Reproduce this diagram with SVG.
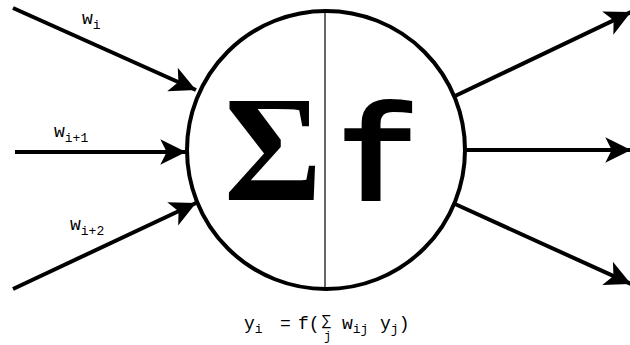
<svg xmlns="http://www.w3.org/2000/svg" width="630" height="345" viewBox="0 0 630 345">
<style>
.ln{stroke:#000;stroke-width:4;fill:none}
.mono{font-family:"Liberation Mono","Courier New",monospace;fill:#000}
.lbl{font-size:18px}
.sub{font-size:13px}
.sig{font-family:"Liberation Serif","Times New Roman",serif;font-size:150px;font-weight:bold;fill:#000}
.big{font-size:138px;font-weight:bold}
</style>
<defs>
<marker id="ah" markerUnits="userSpaceOnUse" markerWidth="30" markerHeight="30" viewBox="-26 -14 28 28" refX="0" refY="0" orient="auto">
<path d="M0,0 L-24,-12 L-18,0 L-24,12 Z" fill="#000"/>
</marker>
</defs>
<rect width="630" height="345" fill="#fff"/>
<g id="connectors">
<line class="ln" x1="13" y1="8" x2="196" y2="90" marker-end="url(#ah)"/>
<line class="ln" x1="15" y1="152" x2="186" y2="152" marker-end="url(#ah)"/>
<line class="ln" x1="13" y1="289" x2="196" y2="203" marker-end="url(#ah)"/>
<line class="ln" x1="455" y1="96" x2="631" y2="12" marker-end="url(#ah)"/>
<line class="ln" x1="465" y1="150" x2="631" y2="150" marker-end="url(#ah)"/>
<line class="ln" x1="455" y1="204" x2="631" y2="284" marker-end="url(#ah)"/>
</g>
<g id="neuron">
<circle cx="326" cy="150" r="139" fill="none" stroke="#000" stroke-width="4"/>
<line x1="325" y1="12" x2="325" y2="288" stroke="#000" stroke-width="1.2"/>
<text class="sig" x="273" y="200" text-anchor="middle">Σ</text>
<text class="mono big" x="378" y="201" text-anchor="middle">f</text>
</g>
<g id="labels">
<text class="mono lbl" x="82" y="24">w<tspan class="sub" dy="5">i</tspan></text>
<text class="mono lbl" x="54" y="137">w<tspan class="sub" dy="5">i+1</tspan></text>
<text class="mono lbl" x="70" y="230">w<tspan class="sub" dy="5">i+2</tspan></text>
</g>
<g id="formula">
<text class="mono lbl" x="244" y="329">y<tspan class="sub" dy="4">i</tspan><tspan dy="-4" x="280">=</tspan><tspan x="298">f(</tspan></text>
<text class="mono" font-size="15" x="322" y="325">∑</text>
<text class="mono" font-size="12" x="324" y="340">j</text>
<text class="mono lbl" x="342" y="329">w<tspan class="sub" dy="4">ij</tspan><tspan dy="-4" x="380">y</tspan><tspan class="sub" dy="4">j</tspan><tspan dy="-4">)</tspan></text>
</g>
</svg>
